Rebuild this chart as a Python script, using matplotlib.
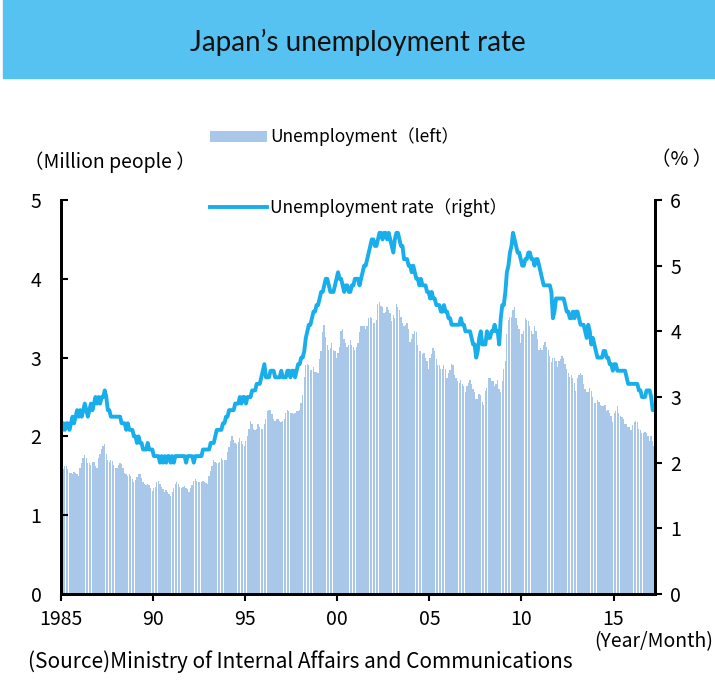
import numpy as np
import matplotlib.pyplot as plt
from matplotlib.patches import Rectangle

plt.rcParams['font.family'] = ['Noto Sans CJK JP', 'DejaVu Sans']

start_year = 1985

# unemployed persons, million people, monthly (not seasonally adjusted)
unemployed = [
    1.52, 1.58, 1.62, 1.62, 1.58, 1.54, 1.53, 1.52, 1.55, 1.53, 1.52, 1.50,  # 1985
    1.60, 1.66, 1.73, 1.76, 1.72, 1.66, 1.66, 1.64, 1.67, 1.67, 1.63, 1.60,  # 1986
    1.72, 1.78, 1.84, 1.88, 1.90, 1.78, 1.70, 1.68, 1.70, 1.69, 1.64, 1.60,  # 1987
    1.60, 1.64, 1.66, 1.65, 1.60, 1.54, 1.52, 1.50, 1.52, 1.50, 1.46, 1.42,  # 1988
    1.45, 1.49, 1.52, 1.52, 1.47, 1.42, 1.40, 1.38, 1.40, 1.38, 1.34, 1.31,  # 1989
    1.34, 1.36, 1.42, 1.44, 1.40, 1.36, 1.33, 1.30, 1.32, 1.30, 1.27, 1.24,  # 1990
    1.30, 1.34, 1.40, 1.42, 1.40, 1.36, 1.35, 1.36, 1.37, 1.34, 1.33, 1.30,  # 1991
    1.34, 1.38, 1.44, 1.46, 1.44, 1.42, 1.42, 1.42, 1.44, 1.42, 1.41, 1.40,  # 1992
    1.50, 1.56, 1.63, 1.70, 1.68, 1.66, 1.66, 1.68, 1.72, 1.70, 1.70, 1.70,  # 1993
    1.80, 1.86, 1.94, 2.00, 1.96, 1.92, 1.90, 1.93, 1.98, 1.94, 1.90, 1.88,  # 1994
    1.94, 2.00, 2.10, 2.20, 2.16, 2.10, 2.08, 2.10, 2.16, 2.12, 2.10, 2.10,  # 1995
    2.16, 2.22, 2.32, 2.34, 2.34, 2.28, 2.22, 2.20, 2.22, 2.22, 2.20, 2.18,  # 1996
    2.20, 2.22, 2.30, 2.34, 2.32, 2.30, 2.30, 2.28, 2.30, 2.32, 2.32, 2.34,  # 1997
    2.42, 2.52, 2.76, 2.90, 2.92, 2.90, 2.84, 2.84, 2.88, 2.82, 2.82, 2.80,  # 1998
    2.98, 3.08, 3.32, 3.42, 3.26, 3.16, 3.10, 3.12, 3.18, 3.10, 3.08, 3.00,  # 1999
    3.06, 3.14, 3.34, 3.36, 3.24, 3.18, 3.14, 3.16, 3.22, 3.16, 3.14, 3.10,  # 2000
    3.14, 3.18, 3.32, 3.40, 3.40, 3.40, 3.36, 3.40, 3.50, 3.52, 3.50, 3.44,  # 2001
    3.44, 3.48, 3.68, 3.70, 3.66, 3.64, 3.56, 3.58, 3.64, 3.60, 3.56, 3.46,  # 2002
    3.54, 3.50, 3.68, 3.64, 3.60, 3.52, 3.44, 3.40, 3.42, 3.44, 3.36, 3.20,  # 2003
    3.24, 3.30, 3.34, 3.32, 3.16, 3.08, 3.08, 3.04, 3.06, 3.00, 2.96, 2.86,  # 2004
    3.00, 3.04, 3.12, 3.08, 2.98, 2.90, 2.90, 2.86, 2.86, 2.90, 2.86, 2.74,  # 2005
    2.80, 2.84, 2.92, 2.90, 2.78, 2.74, 2.70, 2.68, 2.72, 2.66, 2.64, 2.56,  # 2006
    2.64, 2.68, 2.72, 2.66, 2.60, 2.56, 2.48, 2.48, 2.54, 2.52, 2.44, 2.40,  # 2007
    2.58, 2.62, 2.74, 2.74, 2.70, 2.70, 2.64, 2.66, 2.72, 2.60, 2.56, 2.70,  # 2008
    2.86, 2.96, 3.30, 3.48, 3.52, 3.52, 3.60, 3.64, 3.50, 3.42, 3.36, 3.18,  # 2009
    3.30, 3.34, 3.50, 3.48, 3.46, 3.40, 3.34, 3.30, 3.40, 3.34, 3.24, 3.10,  # 2010
    3.12, 3.10, 3.16, 3.20, 3.14, 3.10, 3.02, 2.94, 3.00, 3.00, 2.96, 2.88,  # 2011
    2.96, 2.98, 3.02, 3.00, 2.92, 2.86, 2.80, 2.76, 2.78, 2.74, 2.68, 2.58,  # 2012
    2.74, 2.78, 2.80, 2.78, 2.66, 2.60, 2.56, 2.56, 2.62, 2.58, 2.50, 2.42,  # 2013
    2.42, 2.46, 2.44, 2.40, 2.38, 2.38, 2.40, 2.32, 2.34, 2.30, 2.26, 2.18,  # 2014
    2.30, 2.32, 2.38, 2.30, 2.26, 2.24, 2.22, 2.16, 2.16, 2.12, 2.12, 2.08,  # 2015
    2.14, 2.18, 2.20, 2.18, 2.10, 2.08, 2.04, 2.04, 2.06, 2.04, 2.00, 1.94,  # 2016
    2.00, 1.94, 1.88,                                                        # 2017
]

# unemployment rate, %, monthly (seasonally adjusted)
rate = [
    2.5, 2.6, 2.5, 2.6, 2.6, 2.5, 2.6, 2.7, 2.6, 2.7, 2.8, 2.7,  # 1985
    2.8, 2.7, 2.8, 2.9, 2.8, 2.7, 2.8, 2.9, 2.8, 2.9, 3.0, 2.9,  # 1986
    3.0, 2.9, 3.0, 3.0, 3.1, 3.0, 2.8, 2.8, 2.7, 2.7, 2.7, 2.7,  # 1987
    2.7, 2.7, 2.7, 2.6, 2.6, 2.6, 2.5, 2.6, 2.5, 2.5, 2.5, 2.4,  # 1988
    2.4, 2.3, 2.4, 2.3, 2.3, 2.2, 2.2, 2.2, 2.3, 2.2, 2.2, 2.2,  # 1989
    2.1, 2.1, 2.1, 2.1, 2.0, 2.1, 2.0, 2.1, 2.0, 2.1, 2.1, 2.0,  # 1990
    2.1, 2.0, 2.1, 2.1, 2.1, 2.1, 2.1, 2.1, 2.1, 2.0, 2.1, 2.1,  # 1991
    2.1, 2.1, 2.0, 2.1, 2.1, 2.1, 2.1, 2.1, 2.2, 2.2, 2.2, 2.2,  # 1992
    2.2, 2.3, 2.3, 2.3, 2.4, 2.5, 2.5, 2.5, 2.5, 2.6, 2.6, 2.7,  # 1993
    2.7, 2.8, 2.8, 2.8, 2.8, 2.9, 2.9, 2.9, 3.0, 2.9, 3.0, 3.0,  # 1994
    2.9, 3.0, 3.0, 3.0, 3.1, 3.1, 3.1, 3.2, 3.2, 3.2, 3.3, 3.4,  # 1995
    3.5, 3.3, 3.3, 3.3, 3.4, 3.4, 3.4, 3.3, 3.3, 3.3, 3.3, 3.4,  # 1996
    3.3, 3.3, 3.3, 3.4, 3.4, 3.3, 3.4, 3.4, 3.3, 3.4, 3.5, 3.5,  # 1997
    3.6, 3.6, 3.7, 3.9, 4.0, 4.1, 4.1, 4.2, 4.3, 4.3, 4.4, 4.4,  # 1998
    4.5, 4.6, 4.6, 4.7, 4.8, 4.8, 4.7, 4.6, 4.6, 4.6, 4.7, 4.8,  # 1999
    4.9, 4.8, 4.8, 4.7, 4.6, 4.7, 4.7, 4.6, 4.6, 4.7, 4.7, 4.8,  # 2000
    4.8, 4.8, 4.7, 4.8, 4.9, 5.0, 5.0, 5.1, 5.2, 5.3, 5.4, 5.4,  # 2001
    5.3, 5.3, 5.4, 5.5, 5.5, 5.4, 5.5, 5.5, 5.4, 5.5, 5.4, 5.3,  # 2002
    5.2, 5.4, 5.5, 5.5, 5.4, 5.3, 5.3, 5.1, 5.1, 5.1, 5.0, 5.0,  # 2003
    4.9, 5.0, 4.9, 4.8, 4.8, 4.7, 4.8, 4.7, 4.7, 4.7, 4.6, 4.6,  # 2004
    4.5, 4.6, 4.5, 4.5, 4.4, 4.4, 4.4, 4.3, 4.3, 4.4, 4.3, 4.3,  # 2005
    4.2, 4.2, 4.1, 4.1, 4.1, 4.1, 4.1, 4.1, 4.2, 4.1, 4.1, 4.0,  # 2006
    4.0, 4.0, 4.0, 3.9, 3.8, 3.8, 3.6, 3.7, 3.9, 4.0, 3.8, 3.8,  # 2007
    3.8, 4.0, 3.9, 3.9, 4.0, 4.0, 4.1, 4.0, 4.0, 3.8, 4.2, 4.4,  # 2008
    4.4, 4.6, 4.9, 5.0, 5.2, 5.3, 5.5, 5.4, 5.3, 5.2, 5.2, 5.1,  # 2009
    5.0, 5.0, 5.1, 5.1, 5.2, 5.2, 5.1, 5.1, 5.0, 5.1, 5.1, 5.0,  # 2010
    4.9, 4.8, 4.7, 4.7, 4.7, 4.7, 4.7, 4.6, 4.2, 4.3, 4.5, 4.5,  # 2011
    4.5, 4.5, 4.5, 4.5, 4.4, 4.3, 4.3, 4.2, 4.2, 4.3, 4.2, 4.3,  # 2012
    4.3, 4.2, 4.1, 4.1, 4.1, 4.0, 3.9, 4.1, 4.0, 3.8, 3.9, 3.8,  # 2013
    3.7, 3.6, 3.6, 3.6, 3.6, 3.7, 3.7, 3.6, 3.6, 3.5, 3.5, 3.4,  # 2014
    3.5, 3.5, 3.4, 3.4, 3.4, 3.4, 3.4, 3.4, 3.3, 3.2, 3.2, 3.2,  # 2015
    3.2, 3.2, 3.2, 3.2, 3.1, 3.1, 3.0, 3.0, 3.0, 3.1, 3.1, 3.1,  # 2016
    3.0, 2.8, 2.8,                                               # 2017
]

year_ticks = [1985, 1990, 1995, 2000, 2005, 2010, 2015]
year_labels = ['1985', '90', '95', '00', '05', '10', '15']
left_ticks = [0, 1, 2, 3, 4, 5]
right_ticks = [0, 1, 2, 3, 4, 5, 6]

bar_color = '#A9C7E8'
line_color = '#18AEEB'
band_color = '#56C2F1'

n = len(unemployed)
t = start_year + np.arange(n) / 12

W, H = 715, 683
fig = plt.figure(figsize=(W / 100, H / 100), dpi=100)

# title band
fig.patches.append(Rectangle((3 / W, 1 - 78 / H), 712 / W, 78 / H,
                             transform=fig.transFigure, color=band_color, zorder=0))
fig.text(0.5, 1 - 42 / H, 'Japan’s unemployment rate', ha='center', va='center',
         fontsize=20, family='Lato', color='#111111')

ax = fig.add_axes([61 / W, 1 - 594 / H, 594 / W, 394 / H])
ax.bar(t, unemployed, width=0.85 / 12, align='edge', color=bar_color,
       linewidth=0, label='Unemployment（left）')
ax.set_xlim(start_year, start_year + n / 12)
ax.set_ylim(0, 5)
ax.set_yticks(left_ticks)
ax.set_xticks(year_ticks)
ax.set_xticklabels(year_labels)

ax2 = ax.twinx()
ax2.plot(t + 1 / 24, rate, color=line_color, lw=2.8, solid_joinstyle='round',
         label='Unemployment rate（right）')
ax2.set_ylim(0, 6)
ax2.set_yticks(right_ticks)

for a in (ax, ax2):
    a.spines['top'].set_visible(False)
    for s in ('left', 'right', 'bottom'):
        a.spines[s].set_linewidth(2)
        a.spines[s].set_color('black')
ax.tick_params(axis='y', direction='in', length=5, width=1.5, pad=14, labelsize=14)
ax.tick_params(axis='x', direction='out', length=5, width=1.5, pad=6, labelsize=14)
ax2.tick_params(axis='y', direction='out', length=5, width=1.5, pad=6, labelsize=14)

leg1 = fig.legend(handles=ax.get_legend_handles_labels()[0], loc='center left',
                  bbox_to_anchor=(201 / W, 1 - 137 / H), frameon=False, fontsize=12.5,
                  borderpad=0, handlelength=3.3, handleheight=0.6, handletextpad=0.2)
leg2 = fig.legend(handles=ax2.get_legend_handles_labels()[0], loc='center left',
                  bbox_to_anchor=(201 / W, 1 - 208 / H), frameon=False, fontsize=12.5,
                  borderpad=0, handlelength=3.3, handletextpad=0.2)

fig.text(24 / W, 1 - 162 / H, '（Million people ）', ha='left', va='center', fontsize=14)
fig.text(712 / W, 1 - 160 / H, '（% ）', ha='right', va='center', fontsize=14)
fig.text(713 / W, 1 - 642 / H, '(Year/Month)', ha='right', va='center', fontsize=14)
fig.text(28 / W, 1 - 662 / H, '(Source)Ministry of Internal Affairs and Communications',
         ha='left', va='center', fontsize=15)

fig.savefig('out.png', dpi=100)
